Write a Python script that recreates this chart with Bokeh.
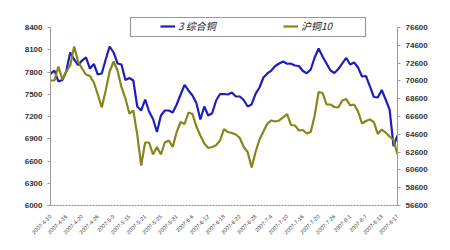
import math
from bokeh.plotting import figure
from bokeh.models import Range1d, LinearAxis, FixedTicker, Legend, LegendItem
from bokeh.embed import file_html
from bokeh.resources import INLINE

tick_labels = ["2007-4-10", "2007-4-16", "2007-4-20", "2007-4-26", "2007-5-9",
               "2007-5-15", "2007-5-21", "2007-5-25", "2007-5-31", "2007-6-6",
               "2007-6-12", "2007-6-18", "2007-6-22", "2007-6-28", "2007-7-4",
               "2007-7-10", "2007-7-16", "2007-7-20", "2007-7-26", "2007-8-1",
               "2007-8-7", "2007-8-13", "2007-8-17"]

lme_copper = [7776, 7820, 7672, 7692, 7807, 8063, 7969, 7894, 7955, 7996,
              7847, 7908, 7766, 7780, 7969, 8144, 8063, 7915, 7901, 7692,
              7719, 7685, 7335, 7281, 7429, 7267, 7166, 6991, 7213, 7281,
              7281, 7254, 7362, 7497, 7625, 7551, 7483, 7382, 7160, 7335,
              7213, 7244, 7416, 7503, 7503, 7497, 7524, 7470, 7470, 7422,
              7335, 7362, 7506, 7591, 7726, 7780, 7820, 7881, 7915, 7942,
              7911, 7912, 7888, 7881, 7813, 7784, 7834, 7996, 8117, 8009,
              7915, 7820, 7787, 7840, 7915, 7989, 7901, 7928, 7861, 7739,
              7746, 7605, 7463, 7456, 7557, 7429, 7294, 6800, 6944]

shfe_copper = [70645, 70645, 72218, 70757, 71656, 72330, 74465, 72780, 71993, 71319,
               71151, 70420, 69072, 67611, 69521, 71656, 72780, 71769, 69892, 68622,
               66937, 67274, 64577, 61094, 63679, 63679, 62330, 63173, 62330, 63679,
               63903, 63173, 64858, 65982, 65757, 67049, 66881, 65476, 64465, 63566,
               63061, 63173, 63364, 63903, 65195, 64858, 64746, 64577, 64184, 63173,
               62611, 60870, 62611, 64016, 64915, 65813, 66151, 66038, 66151, 66488,
               66858, 65645, 65589, 65027, 65083, 64690, 64858, 66712, 69353, 69240,
               67948, 67948, 67667, 67611, 68398, 68566, 67836, 67948, 67162, 65813,
               66094, 66263, 65960, 64634, 65139, 64802, 64353, 63959, 62330]

left_ticks = list(range(6000, 8401, 300))
right_ticks = list(range(56600, 76601, 2000))
series_names = ["3 综合铜", "沪铜10"]

x = list(range(len(lme_copper)))

# page layout in pixels
W, H = 450, 250
FL, FR, FT, FB = 50, 397, 16, 205      # plot frame edges
AXIS_TOP = 27                           # where the top tick sits

left_lo, left_hi = left_ticks[0], left_ticks[-1]
right_lo, right_hi = right_ticks[0], right_ticks[-1]
extra = (FB - FT) / (FB - AXIS_TOP)

p = figure(width=W, height=H, output_backend="svg", toolbar_location=None,
           x_range=Range1d(0, len(x) - 1),
           y_range=Range1d(left_lo, left_lo + (left_hi - left_lo) * extra),
           min_border_left=FL, min_border_right=W - FR, min_border_top=FT,
           min_border_bottom=H - FB)
p.extra_y_ranges = {"r": Range1d(right_lo, right_lo + (right_hi - right_lo) * extra)}
p.outline_line_color = None
p.xgrid.visible = False
p.ygrid.visible = False
p.background_fill_color = "white"
p.border_fill_color = "white"

blue = "#1e1ebe"
olive = "#86861a"

r1 = p.line(x, lme_copper, line_color=blue, line_width=2.2)
r2 = p.line(x, shfe_copper, line_color=olive, line_width=2.2, y_range_name="r")


def px_to_x(px):
    return (px - FL) / (FR - FL) * (len(x) - 1)


def py_to_y(py):
    return left_lo + (FB - py) / (FB - AXIS_TOP) * (left_hi - left_lo)


# legend frame
p.quad(left=[px_to_x(130)], right=[px_to_x(365)], top=[py_to_y(17)], bottom=[py_to_y(36)],
       fill_color="white", line_color="#999999", line_width=1.2)


def style_y(ax):
    ax.axis_line_color = "#999999"
    ax.major_tick_line_color = "#999999"
    ax.major_tick_out = 3
    ax.major_tick_in = 0
    ax.minor_tick_line_color = None
    ax.major_label_text_font = "Liberation Sans"
    ax.major_label_text_font_style = "bold"
    ax.major_label_text_font_size = "8px"
    ax.major_label_text_color = "#333333"
    ax.major_label_standoff = 5


ya = p.yaxis[0]
ya.ticker = FixedTicker(ticks=left_ticks, minor_ticks=[])
ya.bounds = (left_lo, left_hi)
style_y(ya)

ra = LinearAxis(y_range_name="r", ticker=FixedTicker(ticks=right_ticks, minor_ticks=[]))
ra.bounds = (right_lo, right_hi)
style_y(ra)
p.add_layout(ra, "right")

xa = p.xaxis[0]
tick_pos = list(range(0, len(x), 4))
xa.ticker = FixedTicker(ticks=tick_pos, minor_ticks=[])
xa.major_label_overrides = {t: lab for t, lab in zip(tick_pos, tick_labels)}
xa.major_label_orientation = math.pi / 4
xa.major_label_text_font = "Liberation Sans"
xa.major_label_text_font_size = "5.5px"
xa.major_label_text_color = "#333333"
xa.major_label_standoff = 4
xa.axis_line_color = "#888888"
xa.axis_line_dash = "2 1"
xa.major_tick_line_color = None
xa.minor_tick_line_color = None

legend = Legend(items=[LegendItem(label=series_names[0], renderers=[r1]),
                       LegendItem(label=series_names[1], renderers=[r2])],
                orientation="horizontal", location=(110, 172),
                padding=0, margin=0, spacing=5,
                glyph_width=15, glyph_height=12, label_height=12,
                label_width=100, label_standoff=3,
                border_line_color=None, background_fill_alpha=0,
                label_text_font="Noto Sans CJK SC", label_text_font_style="italic",
                label_text_font_size="10px", label_text_color="#222222")
p.add_layout(legend, "center")

open("out.html", "w").write(file_html(p, INLINE))
